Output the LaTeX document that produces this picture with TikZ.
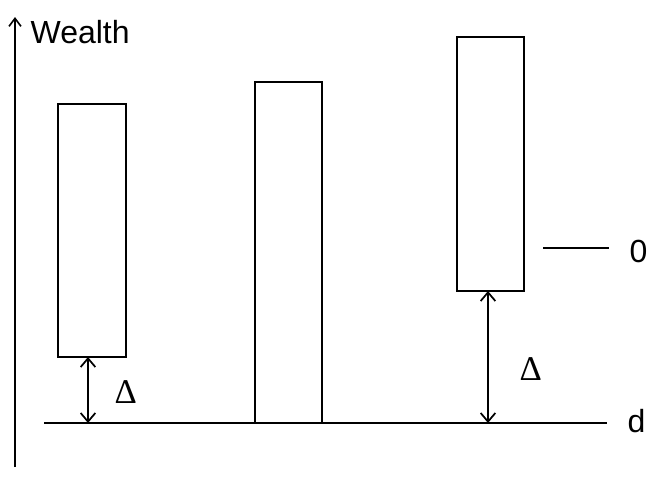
\documentclass[tikz,border=0pt]{standalone}
\usepackage{fontspec}
\setmainfont{Liberation Sans}
\newfontfamily\serifdelta{Liberation Serif}
\usetikzlibrary{arrows.meta}
\begin{document}
\begin{tikzpicture}[x=0.75pt,y=-0.75pt,
  line width=1pt,
  bar/.style={draw=black,line width=1pt},
  lbl/.style={inner sep=0pt,font=\fontsize{24}{26}\selectfont},
  dlt/.style={inner sep=0pt,font=\serifdelta\fontsize{26}{28}\selectfont},
  gap/.style={{Straight Barb[length=6.5pt,width=11pt,line width=1.3pt]}-{Straight Barb[length=6.5pt,width=11pt,line width=1.3pt]}}]
\useasboundingbox (0,0) rectangle (649,479);
% axis
\coordinate (axb) at (15,467);
\coordinate (axt) at (15,17);
\draw[-{Straight Barb[length=6pt,width=9pt,line width=1.2pt]}] (axb) -- (axt);
\node[lbl,anchor=base west] (wealth) at (30,43) {Wealth};
% d line
\coordinate (dl) at (44,423);
\coordinate (dr) at (607,423);
\draw (dl) -- (dr);
\node[lbl,anchor=base west] (dlabel) at (627,432) {d};
% zero line
\coordinate (zl) at (543,248);
\coordinate (zr) at (609,248);
\draw (zl) -- (zr);
\node[lbl,anchor=base west] (zero) at (629,262) {0};
% bars
\draw[bar] (58,104) rectangle (126,357);
\draw[bar] (255,82) rectangle (322,423);
\draw[bar] (457,37) rectangle (524,291);
% gap arrows
\coordinate (g1t) at (88,357);
\coordinate (g1b) at (88,423);
\draw[gap] (g1t) -- (g1b);
\node[dlt,anchor=base west] (d1) at (114,403) {Δ};
\coordinate (g3t) at (488,291);
\coordinate (g3b) at (488,423);
\draw[gap] (g3t) -- (g3b);
\node[dlt,anchor=base west] (d3) at (519,380) {Δ};
\end{tikzpicture}
\end{document}
